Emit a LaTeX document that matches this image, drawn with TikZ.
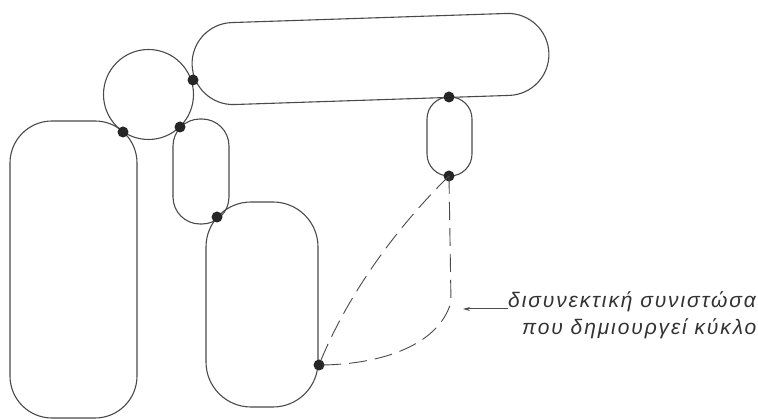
\documentclass[tikz,border=0pt]{standalone}
\usepackage{fontspec}
\setmainfont{Liberation Sans}
\usetikzlibrary{arrows.meta}
\definecolor{ink}{HTML}{4A4A4A}
\tikzset{
  outline/.style={draw=ink, line width=1.1pt, rectangle, inner sep=0pt, outer sep=0pt},
  vdot/.style={circle, fill=black!85, inner sep=0pt, minimum size=11pt},
  dashline/.style={draw=ink, line width=0.9pt, dash pattern=on 18pt off 8pt},
  lbl/.style={font=\fontsize{21}{25}\selectfont\itshape\addfontfeatures{LetterSpace=9}, text=black!80, inner sep=0pt, anchor=base west},
}
\begin{document}
\begin{tikzpicture}[x=1pt, y=-1pt]
\path[use as bounding box, fill=white] (0,0) rectangle (758,419);
% blocks
\node[outline, rounded corners=42pt, minimum width=127pt, minimum height=297pt] (leftbox) at (73.5,269.5) {};
\node[outline, circle, minimum size=90pt] (ring) at (148.5,94.5) {};
\node[outline, rounded corners=41pt, minimum width=357pt, minimum height=82pt, rotate=1.9] (bar) at (370.5,59) {};
\node[outline, rounded corners=27pt, minimum width=56pt, minimum height=105pt] (smallbox) at (201,171.5) {};
\node[outline, rounded corners=45pt, minimum width=112pt, minimum height=205pt] (midbox) at (262,304.5) {};
\node[outline, rounded corners=22pt, minimum width=45pt, minimum height=79pt] (oval) at (449.5,136.5) {};
% cut vertices
\node[vdot] (v1) at (123,132) {};
\node[vdot] (v2) at (193,80) {};
\node[vdot] (v3) at (180,127) {};
\node[vdot] (v4) at (217,217) {};
\node[vdot] (v5) at (319,365) {};
\node[vdot] (v6) at (449,97) {};
\node[vdot] (v7) at (449,176) {};
% dashed cycle
\coordinate (bend) at (451,302);
\draw[dashline] (v7.center) .. controls (392,232) and (345,300) .. (v5.center);
\draw[dashline] (v7.center) -- (bend) .. controls (438,348) and (375,365) .. (v5.center);
% label
\node[lbl] (lab1) at (508,308) {δισυνεκτική συνιστώσα};
\node[lbl] (lab2) at (522,335) {που δημιουργεί κύκλο};
\coordinate (tip) at (463,308);
\draw[ink, line width=1pt, -{Stealth[length=7pt,width=4pt]}] ([yshift=-1pt]lab1.base west) -- ([yshift=-1pt]tip);
\end{tikzpicture}
\end{document}
